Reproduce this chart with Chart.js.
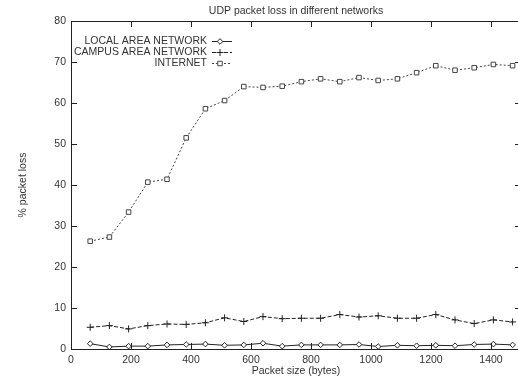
<!DOCTYPE html>
<html>
<head>
<meta charset="utf-8">
<script src="https://cdn.jsdelivr.net/npm/chart.js@4.4.1/dist/chart.umd.min.js"></script>
<style>
  html, body { margin: 0; padding: 0; background: #fff; overflow: hidden; }
  #wrap { width: 526px; height: 377px; }
</style>
</head>
<body>
<div id="wrap"><canvas id="lossChart" width="526" height="377"></canvas></div>
<script>
// Packet sizes (bytes)
const packetSizes = [64, 128, 192, 256, 320, 384, 448, 512, 576, 640, 704, 768,
  832, 896, 960, 1024, 1088, 1152, 1216, 1280, 1344, 1408, 1472];

// % packet loss per network
const lanLoss = [1.3, 0.5, 0.7, 0.7, 1.0, 1.1, 1.2, 0.9, 1.0, 1.4, 0.7, 1.0,
  1.0, 1.0, 1.1, 0.6, 0.9, 0.8, 0.9, 0.8, 1.1, 1.2, 1.0];
const campusLoss = [5.3, 5.7, 4.9, 5.7, 6.1, 6.0, 6.4, 7.6, 6.7, 7.9, 7.4, 7.5,
  7.5, 8.4, 7.8, 8.1, 7.5, 7.5, 8.4, 7.1, 6.2, 7.1, 6.6];
const internetLoss = [26.3, 27.3, 33.4, 40.7, 41.4, 51.5, 58.6, 60.6, 64.0, 63.8, 64.1, 65.2,
  65.9, 65.2, 66.2, 65.5, 65.9, 67.4, 69.1, 68.0, 68.6, 69.4, 69.1];

const xTicks = [0, 200, 400, 600, 800, 1000, 1200, 1400];
const yTicks = [0, 10, 20, 30, 40, 50, 60, 70, 80];

const FONT = '"Liberation Sans", Arial, sans-serif';
const TEXT = '#333';

function toPoints(ys) {
  return packetSizes.map((x, i) => ({ x: x, y: ys[i] }));
}

// gnuplot-style frame, inward ticks on all sides, title and key
const gnuplotFrame = {
  id: 'gnuplotFrame',
  afterDraw(chart) {
    const { ctx, chartArea: a, scales } = chart;
    ctx.save();
    ctx.strokeStyle = '#222';
    ctx.lineWidth = 1;
    ctx.strokeRect(Math.round(a.left) + 0.5, Math.round(a.top) + 0.5,
      Math.round(a.right - a.left), Math.round(a.bottom - a.top));

    ctx.beginPath();
    xTicks.forEach(v => {
      const px = Math.round(scales.x.getPixelForValue(v)) + 0.5;
      ctx.moveTo(px, a.bottom); ctx.lineTo(px, a.bottom - 6);
      ctx.moveTo(px, a.top); ctx.lineTo(px, a.top + 6);
    });
    yTicks.forEach(v => {
      const py = Math.round(scales.y.getPixelForValue(v)) + 0.5;
      ctx.moveTo(a.left, py); ctx.lineTo(a.left + 6, py);
      ctx.moveTo(a.right, py); ctx.lineTo(a.right - 6, py);
    });
    ctx.stroke();

    // title
    ctx.fillStyle = TEXT;
    ctx.font = '10.5px ' + FONT;
    ctx.textAlign = 'center';
    ctx.textBaseline = 'middle';
    ctx.fillText('UDP packet loss in different networks', (a.left + a.right) / 2, 11);

    // key
    const textRight = 207, sx0 = 212, sx1 = 232;
    chart.data.datasets.forEach((ds, i) => {
      const y = 41 + i * 11;
      ctx.fillStyle = TEXT;
      ctx.textAlign = 'right';
      ctx.fillText(ds.label, textRight, y);
      ctx.strokeStyle = ds.borderColor;
      ctx.lineWidth = 1;
      ctx.setLineDash(ds.borderDash || []);
      ctx.beginPath();
      ctx.moveTo(sx0, y + 0.5); ctx.lineTo(sx1, y + 0.5);
      ctx.stroke();
      ctx.setLineDash([]);
      ctx.fillStyle = '#fff';
      Chart.helpers.drawPoint(ctx, {
        pointStyle: ds.pointStyle, radius: ds.pointRadius, borderWidth: 1
      }, 220, y + 0.5);
    });
    ctx.restore();
  }
};

new Chart(document.getElementById('lossChart'), {
  type: 'line',
  data: {
    datasets: [
      {
        label: 'LOCAL AREA NETWORK',
        data: toPoints(lanLoss),
        borderColor: '#222',
        backgroundColor: '#fff',
        borderWidth: 1,
        pointStyle: 'rectRot',
        pointRadius: 2.8,
        pointBorderWidth: 1
      },
      {
        label: 'CAMPUS AREA NETWORK',
        data: toPoints(campusLoss),
        borderColor: '#222',
        backgroundColor: '#fff',
        borderWidth: 1,
        borderDash: [4, 2],
        pointStyle: 'cross',
        pointRadius: 3.5,
        pointBorderWidth: 1
      },
      {
        label: 'INTERNET',
        data: toPoints(internetLoss),
        borderColor: '#444',
        backgroundColor: '#fff',
        borderWidth: 1,
        borderDash: [2, 2],
        pointStyle: 'rect',
        pointRadius: 3.2,
        pointBorderWidth: 1
      }
    ]
  },
  options: {
    responsive: false,
    animation: false,
    events: [],
    layout: { padding: { top: 21, right: 5, left: 0, bottom: 0 } },
    plugins: {
      legend: { display: false },
      tooltip: { enabled: false },
      title: { display: false }
    },
    scales: {
      x: {
        type: 'linear',
        min: 0,
        max: 1500,
        afterFit: s => { s.height = 28; },
        afterBuildTicks: s => { s.ticks = xTicks.map(v => ({ value: v })); },
        grid: { display: false, drawTicks: false },
        border: { display: false },
        ticks: {
          color: TEXT,
          font: { family: FONT, size: 10.5 },
          padding: 5,
          maxRotation: 0,
          callback: v => String(v)
        },
        title: {
          display: true,
          text: 'Packet size (bytes)',
          color: TEXT,
          font: { family: FONT, size: 10.5 },
          padding: { top: 0, bottom: 0 }
        }
      },
      y: {
        min: 0,
        max: 80,
        afterFit: s => { s.width = 71; },
        afterBuildTicks: s => { s.ticks = yTicks.map(v => ({ value: v })); },
        grid: { display: false, drawTicks: false },
        border: { display: false },
        ticks: { color: TEXT, font: { family: FONT, size: 10.5 }, padding: 5 },
        title: {
          display: true,
          text: '% packet loss',
          color: TEXT,
          font: { family: FONT, size: 10.5 },
          padding: { top: 17, bottom: 0 }
        }
      }
    }
  },
  plugins: [gnuplotFrame]
});
</script>
</body>
</html>
